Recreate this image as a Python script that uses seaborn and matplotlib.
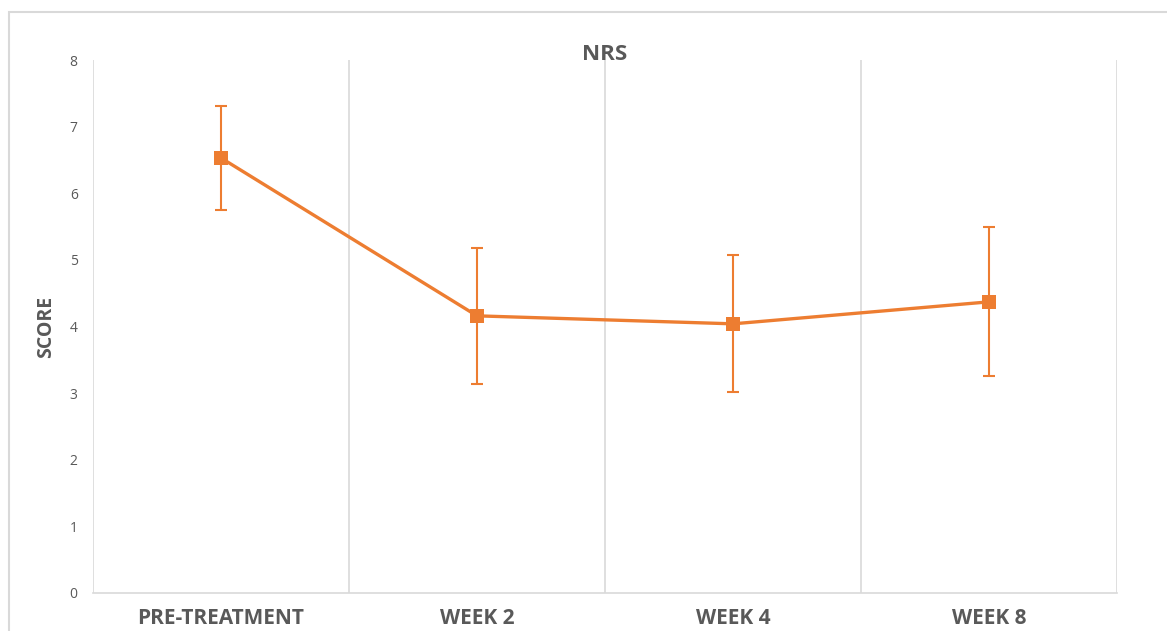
import matplotlib
matplotlib.use("Agg")
import matplotlib.pyplot as plt
from matplotlib.patches import Rectangle
import seaborn as sns
import pandas as pd
import numpy as np

# NRS pain score by visit: mean and standard deviation
visits = ["PRE-TREATMENT", "WEEK 2", "WEEK 4", "WEEK 8"]
mean_score = [6.53, 4.16, 4.04, 4.37]
sd_score = [0.78, 1.02, 1.03, 1.12]

sns.set_theme(style="white")
plt.rcParams["font.family"] = ["Open Sans", "DejaVu Sans"]

orange = "#ED7D31"
text_grey = "#595959"
grid_grey = "#D9D9D9"

W, H = 1167, 631
fig = plt.figure(figsize=(W / 100, H / 100), dpi=100)
ax = fig.add_axes([93 / W, (H - 593) / H, (1117 - 93) / W, (593 - 60) / H])

df = pd.DataFrame({"pos": np.arange(len(visits)), "score": mean_score, "sd": sd_score})

ax.errorbar(df["pos"], df["score"], yerr=df["sd"], fmt="none", ecolor=orange,
            elinewidth=1.5, capsize=4, capthick=1.5, zorder=2)
sns.lineplot(data=df, x="pos", y="score", ax=ax, color=orange, linewidth=2.4,
             marker="s", markersize=10, markeredgewidth=0, zorder=3)

ax.set_xlim(-0.5, len(visits) - 0.5)
ax.set_ylim(0, 8)
ax.set_yticks(range(0, 9))

# category boundaries as vertical gridlines
ax.set_xticks(np.arange(len(visits)), labels=visits)
ax.set_xticks(np.arange(len(visits) + 1) - 0.5, minor=True)
ax.grid(False)
ax.grid(True, which="minor", axis="x", color=grid_grey, linewidth=1.2)
ax.tick_params(axis="x", which="both", length=0, pad=11)
ax.tick_params(axis="y", length=0, pad=11, labelsize=10, labelcolor=text_grey)
for lab in ax.get_xticklabels():
    lab.set_fontweight("bold")
    lab.set_fontsize(15)
    lab.set_color(text_grey)

for side in ["top", "right", "left"]:
    ax.spines[side].set_visible(False)
ax.spines["bottom"].set_color(grid_grey)
ax.spines["bottom"].set_linewidth(1.2)

ax.set_xlabel("")
ax.set_ylabel("SCORE", fontsize=14, fontweight="bold", color=text_grey, labelpad=10)
ax.set_title("NRS", fontsize=16, fontweight="bold", color=text_grey, pad=0)

# chart frame
fig.patches.append(Rectangle((9 / W, -0.1), 1.2, 1.1 - 12 / H, transform=fig.transFigure,
                             fill=False, edgecolor=grid_grey, linewidth=1.5))

fig.savefig("out.png", dpi=100)
